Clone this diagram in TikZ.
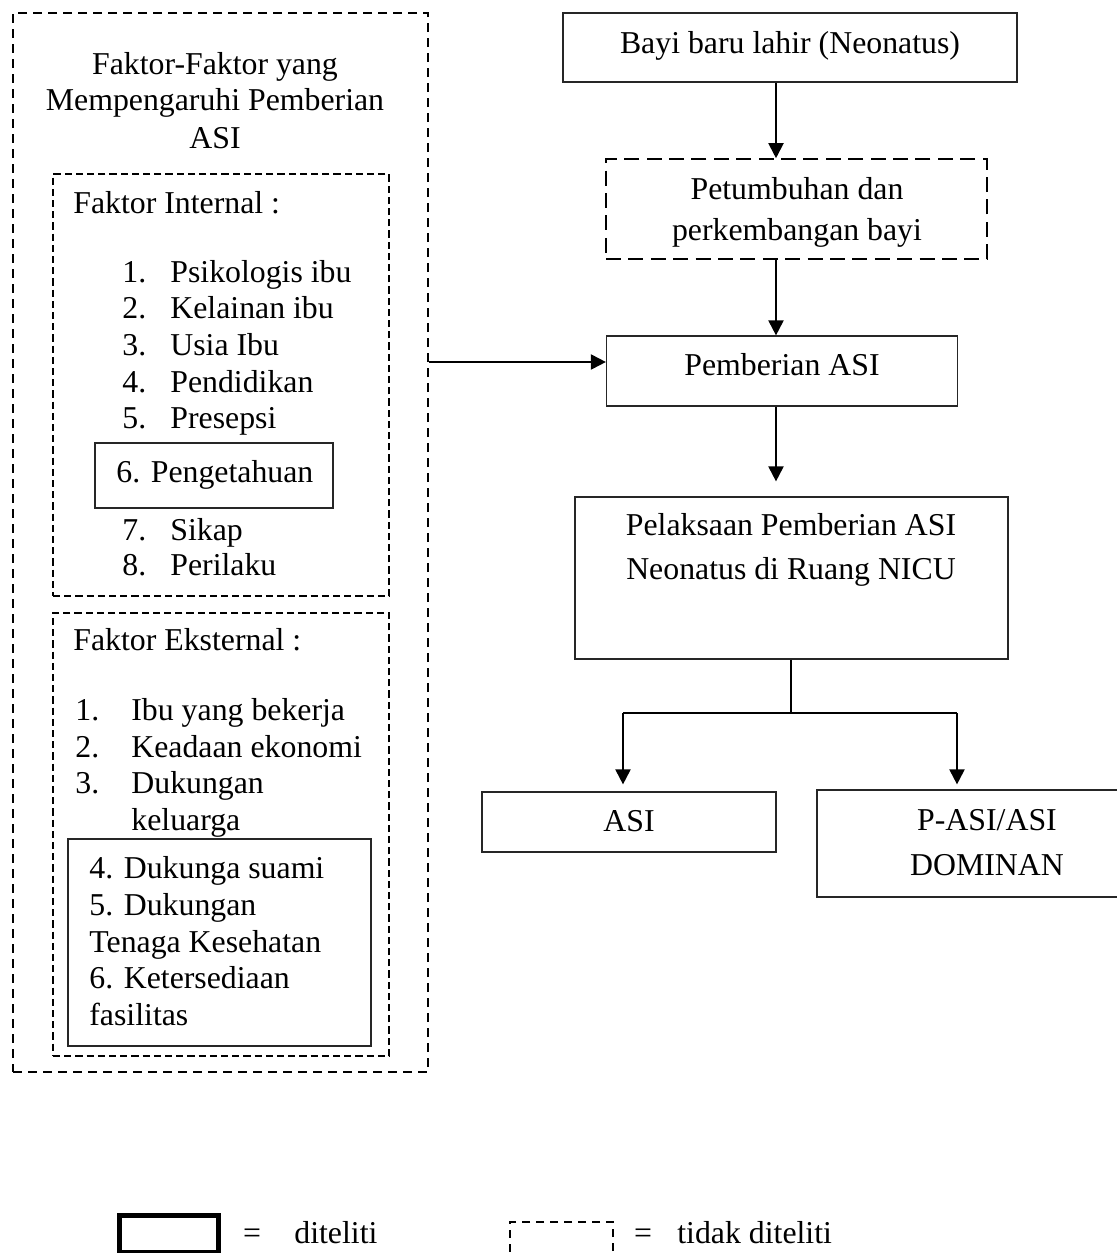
\documentclass[tikz,border=0pt]{standalone}
\usepackage{fontspec}
\setmainfont{Liberation Serif}
\usetikzlibrary{arrows.meta,calc}
\tikzset{
  box/.style={draw=black!85, line width=0.6pt, rectangle, inner sep=0pt},
  outerdash/.style={draw=black, line width=1pt, dash pattern=on 4.7pt off 2.8pt, rectangle, inner sep=0pt},
  innerdash/.style={draw=black, line width=0.7pt, dash pattern=on 3.6pt off 2pt, rectangle, inner sep=0pt},
  petdash/.style={draw=black, line width=0.8pt, dash pattern=on 7.5pt off 3.7pt, rectangle, inner sep=0pt},
  txt/.style={inner sep=0pt, anchor=base},
  ltxt/.style={inner sep=0pt, anchor=base west},
  arr/.style={line width=1pt, -{Triangle[length=7.5pt,width=7.5pt]}},
}
\begin{document}
\begin{tikzpicture}[x=0.5pt, y=-0.5pt, font=\fontsize{15.9pt}{18.4pt}\selectfont]
\useasboundingbox (0,0) rectangle (1116,1253);
% ---------- left panel ----------
\node[outerdash, minimum width=207.5pt, minimum height=529.5pt] (outer) at (220.5,542.5) {};
\node[txt] (t1) at (215,74) {Faktor-Faktor yang};
\node[txt] (t2) at (215,110) {Mempengaruhi Pemberian};
\node[txt] (t3) at (215,148) {ASI};

\node[innerdash, minimum width=168pt, minimum height=211pt] (intbox) at (221,385) {};
\node[ltxt] (fi) at (73,213) {Faktor Internal :};
\node[ltxt] (i1) at (122,282) {\makebox[24pt][l]{1.}Psikologis ibu};
\node[ltxt] (i2) at (122,318) {\makebox[24pt][l]{2.}Kelainan ibu};
\node[ltxt] (i3) at (122,355) {\makebox[24pt][l]{3.}Usia Ibu};
\node[ltxt] (i4) at (122,392) {\makebox[24pt][l]{4.}Pendidikan};
\node[ltxt] (i5) at (122,428) {\makebox[24pt][l]{5.}Presepsi};
\node[box, fill=white, minimum width=119pt, minimum height=32.5pt] (pgbox) at (214,475.5) {};
\node[ltxt] (i6) at (116,482) {6. Pengetahuan};
\node[ltxt] (i7) at (122,540) {\makebox[24pt][l]{7.}Sikap};
\node[ltxt] (i8) at (122,575) {\makebox[24pt][l]{8.}Perilaku};

\node[innerdash, minimum width=168pt, minimum height=221.5pt] (extbox) at (221,834.5) {};
\node[ltxt] (fe) at (73,650) {Faktor Eksternal :};
\node[ltxt] (e1) at (75,720) {\makebox[28pt][l]{1.}Ibu yang bekerja};
\node[ltxt] (e2) at (75,757) {\makebox[28pt][l]{2.}Keadaan ekonomi};
\node[ltxt] (e3) at (75,793) {\makebox[28pt][l]{3.}Dukungan};
\node[ltxt] (e3b) at (131,830) {keluarga};
\node[box, minimum width=151.5pt, minimum height=103.5pt] (solidbox) at (219.5,942.5) {};
\node[ltxt] (s1) at (89,878) {4. Dukunga suami};
\node[ltxt] (s2) at (89,915) {5. Dukungan};
\node[ltxt] (s3) at (89,952) {Tenaga Kesehatan};
\node[ltxt] (s4) at (89,988) {6. Ketersediaan};
\node[ltxt] (s5) at (89,1025) {fasilitas};

% ---------- right side ----------
\node[box, minimum width=227pt, minimum height=34.5pt] (bayi) at (790,47.5) {};
\node[txt] (bt) at (790,53) {Bayi baru lahir (Neonatus)};

\node[petdash, minimum width=190.5pt, minimum height=50pt] (pet) at (796.5,209) {};
\node[txt] (pt1) at (797,199) {Petumbuhan dan};
\node[txt] (pt2) at (797,240) {perkembangan bayi};

\node[box, minimum width=175.5pt, minimum height=35pt] (pem) at (782,371) {};
\node[txt] (pmt) at (782,375) {Pemberian ASI};

\node[box, minimum width=216.5pt, minimum height=81pt] (pel) at (791.5,578) {};
\node[txt] (pl1) at (791,535) {Pelaksaan Pemberian ASI};
\node[txt] (pl2) at (791,579) {Neonatus di Ruang NICU};

\node[box, minimum width=147pt, minimum height=30pt] (asi) at (629,822) {};
\node[txt] (asit) at (629,831) {ASI};

\node[box, minimum width=170pt, minimum height=53.5pt] (pasi) at (987,843.5) {};
\node[txt] (pa1) at (987,830) {P-ASI/ASI};
\node[txt] (pa2) at (987,875) {DOMINAN};

% ---------- connectors ----------
\coordinate (ax) at (776,0);
\coordinate (ay) at (0,362);
\draw[arr] (bayi.south -| ax) -- (pet.north -| ax);
\draw[arr] (pet.south -| ax) -- (pem.north -| ax);
\draw[arr, shorten >=7.5pt] (pem.south -| ax) -- (pel.north -| ax);
\draw[arr] (outer.east |- ay) -- (pem.west |- ay);

\coordinate (jc) at (791,713);
\coordinate (jl) at (623,713);
\coordinate (jr) at (957,713);
\draw[line width=0.6pt] (pel.south -| jc) -- (jc);
\draw[line width=1pt] (jl) -- (jr);
\draw[arr, shorten >=3.5pt] (jl) -- (asi.north -| jl);
\draw[arr, shorten >=2.5pt] (jr) -- (pasi.north -| jr);

% ---------- legend ----------
\node[draw, line width=2.5pt, rectangle, inner sep=0pt, minimum width=49.5pt, minimum height=18.5pt] (lg1) at (169,1234) {};
\node[txt] (eq1) at (252,1243) {=};
\node[ltxt] (dt) at (294,1243) {diteliti};
\node[draw, line width=1.3pt, dash pattern=on 4pt off 3pt, rectangle, inner sep=0pt, minimum width=51.5pt, minimum height=19pt] (lg2) at (561.5,1241) {};
\node[txt] (eq2) at (643,1243) {=};
\node[ltxt] (tdt) at (677,1243) {tidak diteliti};
\end{tikzpicture}
\end{document}
